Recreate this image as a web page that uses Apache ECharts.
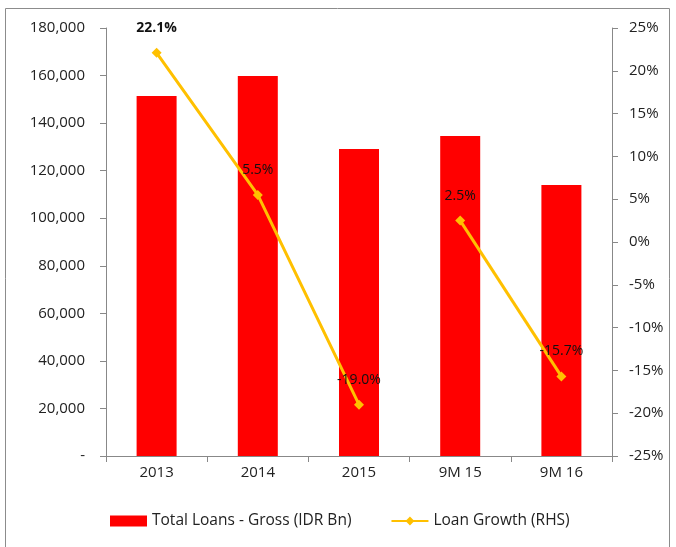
<!DOCTYPE html>
<html><head><meta charset="utf-8">
<script src="https://cdn.jsdelivr.net/npm/echarts@6/dist/echarts.min.js"></script>
<style>html,body{margin:0;padding:0;background:#fff}#c{width:676px;height:547px}</style>
</head><body><div id="c"></div>
<script>
const categories = ['2013', '2014', '2015', '9M 15', '9M 16'];
const totalLoans = [151400, 159800, 129100, 134600, 114000];
const growthPart1 = [22.1, 5.5, -19.0, null, null];
const growthPart2 = [null, null, null, 2.5, -15.7];
const leftTicks = [0, 180000, 20000];
const rightTicks = [-25, 25, 5];

const font = '"Open Sans", "Noto Sans", sans-serif';
const chart = echarts.init(document.getElementById('c'));
const lineSeries = (data) => ({
  name: 'Loan Growth (RHS)', type: 'line', yAxisIndex: 1,
  data: data.map((v, i) => (v === 22.1 && i === 0) ? { value: v, label: { fontWeight: 'bold' } } : v),
  symbol: 'diamond', symbolSize: 10, connectNulls: false,
  lineStyle: { color: '#FFC000', width: 3 },
  itemStyle: { color: '#FFC000' },
  label: { show: true, position: 'top', distance: 13, color: '#111', fontFamily: font, fontSize: 14,
    formatter: p => p.value == null ? '' : p.value.toFixed(1) + '%' }
});
chart.setOption({
  animation: false,
  textStyle: { fontFamily: font },
  graphic: [{ type: 'rect', shape: { x: 5.5, y: 8.5, width: 664, height: 540 }, style: { fill: 'none', stroke: '#8c8c8c', lineWidth: 1 }, silent: true, z: -1 }],
  grid: { left: 106, right: 64, top: 28, bottom: 91 },
  legend: {
    bottom: 13, left: 105, itemGap: 39, itemWidth: 37, itemHeight: 11,
    textStyle: { fontFamily: font, fontSize: 15.5, color: '#222' },
    data: [{ name: 'Total Loans - Gross (IDR Bn)', icon: 'rect' }, { name: 'Loan Growth (RHS)' }]
  },
  xAxis: {
    type: 'category', data: categories,
    axisLine: { lineStyle: { color: '#888' } },
    axisTick: { show: true, length: 6, lineStyle: { color: '#888' } },
    axisLabel: { color: '#222', fontSize: 15, margin: 9 }
  },
  yAxis: [{
    type: 'value', min: leftTicks[0], max: leftTicks[1], interval: leftTicks[2],
    axisLine: { show: true, lineStyle: { color: '#888' } },
    axisTick: { show: true, length: 6, lineStyle: { color: '#888' } },
    splitLine: { show: false },
    axisLabel: { color: '#222', fontSize: 15, margin: 21,
      formatter: v => v === 0 ? '-' : v.toLocaleString('en-US') }
  }, {
    type: 'value', position: 'right', min: rightTicks[0], max: rightTicks[1], interval: rightTicks[2],
    axisLine: { show: true, lineStyle: { color: '#888' } },
    axisTick: { show: true, length: 6, lineStyle: { color: '#888' } },
    splitLine: { show: false },
    axisLabel: { color: '#222', fontSize: 15, margin: 17, formatter: v => v + '%' }
  }],
  series: [{
    name: 'Total Loans - Gross (IDR Bn)', type: 'bar', data: totalLoans,
    barWidth: 40, itemStyle: { color: '#FF0000' }
  }, lineSeries(growthPart1), lineSeries(growthPart2)]
});
</script></body></html>
